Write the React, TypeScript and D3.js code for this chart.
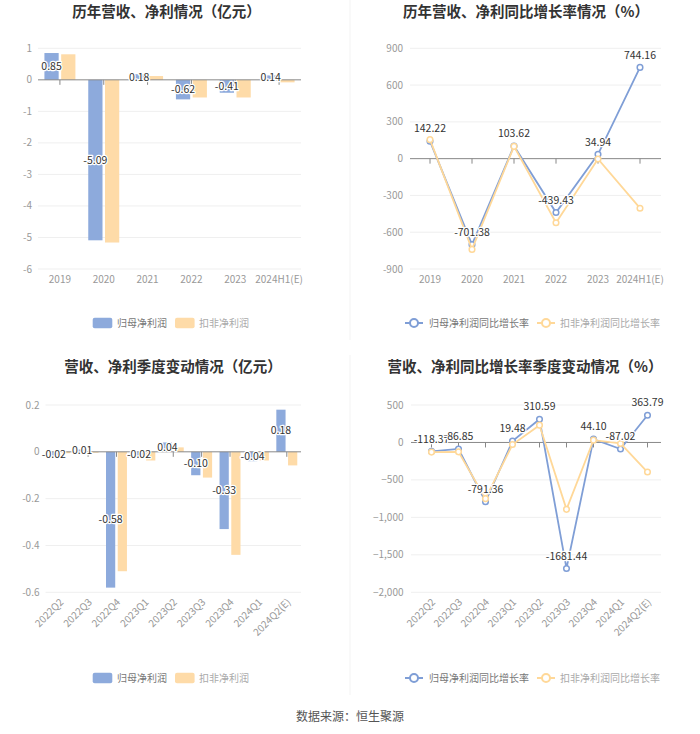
import React from 'react';
import * as d3 from 'd3';

const annualCats = ['2019', '2020', '2021', '2022', '2023', '2024H1(E)'];
const annualNet = [0.85, -5.09, 0.18, -0.62, -0.41, 0.14];
const annualDeducted = [0.81, -5.16, 0.12, -0.56, -0.56, -0.08];
const annualTicks = [1, 0, -1, -2, -3, -4, -5, -6];

const annualNetGrowth = [142.22, -701.38, 103.62, -439.43, 34.94, 744.16];
const annualDeductedGrowth = [155, -740, 100, -523, -3, -404];
const annualGrowthTicks = [900, 600, 300, 0, -300, -600, -900];

const quarterCats = ['2022Q2', '2022Q3', '2022Q4', '2023Q1', '2023Q2', '2023Q3', '2023Q4', '2024Q1', '2024Q2(E)'];
const quarterNet = [-0.02, 0.01, -0.58, -0.02, 0.04, -0.1, -0.33, -0.04, 0.18];
const quarterDeducted = [-0.006, -0.004, -0.51, -0.037, 0.019, -0.11, -0.44, -0.037, -0.058];
const quarterTicks = [0.2, 0, -0.2, -0.4, -0.6];

const quarterNetGrowth = [-118.37, -86.85, -791.36, 19.48, 310.59, -1681.44, 44.1, -87.02, 363.79];
const quarterDeductedGrowth = [-129, -125, -750, -27, 231, -893, 31, -13, -395];
const quarterGrowthTicks = [500, 0, -500, -1000, -1500, -2000];

const FONT = '"Noto Sans CJK SC", "Noto Sans", sans-serif';
const BLUE_BAR = '#8DAADC';
const ORANGE_BAR = '#FEDBA8';
const BLUE_LINE = '#7F9ED6';
const ORANGE_LINE = '#FFD898';
const AXIS_TEXT = '#999';
const GRID = '#EFEFEF';
const ZERO = '#888';
const AXIS_FS = 10;
const LABEL_FS = 10.5;

type BarProps = {
  cats: string[]; a: number[]; b: number[]; ticks: number[];
  x0: number; x1: number; yTop: number; yBot: number; labelRight: number;
  rotate: boolean; fmtTick: (v: number) => string; fmtLabel: (v: number) => string;
};

function BarPanel(p: BarProps) {
  const x = d3.scaleBand<string>().domain(p.cats).range([p.x0, p.x1]);
  const ext = d3.extent(p.ticks) as [number, number];
  const y = d3.scaleLinear().domain([ext[0], ext[1]]).range([p.yBot, p.yTop]);
  const band = x.bandwidth();
  const bw = band * 0.325;
  const gap = 2.5;
  const y0 = y(0);
  return (
    <g fontFamily={FONT}>
      {p.ticks.map((t) => (
        <g key={t}>
          {t !== 0 && <line x1={p.x0} x2={p.x1} y1={y(t)} y2={y(t)} stroke={GRID} />}
          <text x={p.labelRight} y={y(t)} dy="0.35em" textAnchor="end" fontSize={AXIS_FS} fill={AXIS_TEXT}>{p.fmtTick(t)}</text>
        </g>
      ))}
      {p.cats.map((c, i) => {
        const cx = (x(c) as number) + band / 2;
        const va = p.a[i];
        const vb = p.b[i];
        return (
          <g key={c}>
            <rect x={cx - gap / 2 - bw} width={bw} y={Math.min(y(va), y0)} height={Math.abs(y(va) - y0)} fill={BLUE_BAR} />
            <rect x={cx + gap / 2} width={bw} y={Math.min(y(vb), y0)} height={Math.abs(y(vb) - y0)} fill={ORANGE_BAR} />
          </g>
        );
      })}
      <line x1={p.x0} x2={p.x1} y1={y0} y2={y0} stroke={ZERO} />
      {p.cats.map((c) => {
        const cx = (x(c) as number) + band / 2;
        return <line key={c} x1={cx} x2={cx} y1={y0} y2={y0 + 5} stroke={ZERO} />;
      })}
      {p.cats.map((c) => {
        const cx = (x(c) as number) + band / 2;
        const ly = p.rotate ? p.yBot + 8 : p.yBot + 10;
        return p.rotate ? (
          <text key={c} transform={`translate(${cx + 2},${ly}) rotate(-45)`} textAnchor="end" dy="0.35em" fontSize={AXIS_FS} fill={AXIS_TEXT}>{c}</text>
        ) : (
          <text key={c} x={cx} y={ly} dy="0.35em" textAnchor="middle" fontSize={AXIS_FS} fill={AXIS_TEXT}>{c}</text>
        );
      })}
      {p.cats.map((c, i) => {
        const cx = (x(c) as number) + band / 2 - gap / 2 - bw / 2;
        const va = p.a[i];
        const my = (y(va) + y0) / 2;
        return (
          <text key={c} x={cx} y={my} dy="0.35em" textAnchor="middle" fontSize={LABEL_FS} fill="#333"
            stroke="#fff" strokeWidth={2.5} paintOrder="stroke" strokeLinejoin="round">{p.fmtLabel(va)}</text>
        );
      })}
    </g>
  );
}

type LineProps = {
  cats: string[]; a: number[]; b: number[]; ticks: number[];
  x0: number; x1: number; gridX0: number; yTop: number; yBot: number; labelRight: number;
  rotate: boolean; fmtTick: (v: number) => string;
};

function LinePanel(p: LineProps) {
  const x = d3.scaleBand<string>().domain(p.cats).range([p.x0, p.x1]);
  const ext = d3.extent(p.ticks) as [number, number];
  const y = d3.scaleLinear().domain([ext[0], ext[1]]).range([p.yBot, p.yTop]);
  const band = x.bandwidth();
  const cx = (c: string) => (x(c) as number) + band / 2;
  const y0 = y(0);
  const line = d3.line<number>().x((_, i) => cx(p.cats[i])).y((v) => y(v));
  return (
    <g fontFamily={FONT}>
      {p.ticks.map((t) => (
        <g key={t}>
          {t !== 0 && <line x1={p.gridX0} x2={p.x1} y1={y(t)} y2={y(t)} stroke={GRID} />}
          <text x={p.labelRight} y={y(t)} dy="0.35em" textAnchor="end" fontSize={AXIS_FS} fill={AXIS_TEXT}>{p.fmtTick(t)}</text>
        </g>
      ))}
      <line x1={p.gridX0} x2={p.x1} y1={y0} y2={y0} stroke={ZERO} />
      {p.cats.map((c) => (
        <line key={c} x1={cx(c)} x2={cx(c)} y1={y0} y2={y0 + 5} stroke={ZERO} />
      ))}
      {p.cats.map((c) => {
        const ly = p.rotate ? p.yBot + 8 : p.yBot + 10;
        return p.rotate ? (
          <text key={c} transform={`translate(${cx(c) + 2},${ly}) rotate(-45)`} textAnchor="end" dy="0.35em" fontSize={AXIS_FS} fill={AXIS_TEXT}>{c}</text>
        ) : (
          <text key={c} x={cx(c)} y={ly} dy="0.35em" textAnchor="middle" fontSize={AXIS_FS} fill={AXIS_TEXT}>{c}</text>
        );
      })}
      <path d={line(p.a) as string} fill="none" stroke={BLUE_LINE} strokeWidth={1.8} />
      {p.a.map((v, i) => (
        <circle key={i} cx={cx(p.cats[i])} cy={y(v)} r={2.8} fill="#fff" stroke={BLUE_LINE} strokeWidth={1.5} />
      ))}
      <path d={line(p.b) as string} fill="none" stroke={ORANGE_LINE} strokeWidth={1.8} />
      {p.b.map((v, i) => (
        <circle key={i} cx={cx(p.cats[i])} cy={y(v)} r={2.8} fill="#fff" stroke={ORANGE_LINE} strokeWidth={1.5} />
      ))}
      {p.a.map((v, i) => (
        <text key={i} x={cx(p.cats[i])} y={y(v) - 12.5} dy="0.35em" textAnchor="middle" fontSize={LABEL_FS} fill="#333"
          stroke="#fff" strokeWidth={2.5} paintOrder="stroke" strokeLinejoin="round">{v.toFixed(2)}</text>
      ))}
    </g>
  );
}

function BarLegend({ y }: { y: number }) {
  return (
    <g fontFamily={FONT} fontSize={10}>
      <rect x={92.7} y={y - 5.3} width={19.6} height={10.6} rx={2} fill={BLUE_BAR} />
      <text x={117} y={y} dy="0.35em" fill="#777">归母净利润</text>
      <rect x={175} y={y - 5.3} width={19.6} height={10.6} rx={2} fill={ORANGE_BAR} />
      <text x={199} y={y} dy="0.35em" fill="#aaa">扣非净利润</text>
    </g>
  );
}

function LineLegend({ y }: { y: number }) {
  return (
    <g fontFamily={FONT} fontSize={10}>
      <line x1={405} x2={423} y1={y} y2={y} stroke={BLUE_LINE} strokeWidth={2} />
      <circle cx={414} cy={y} r={4} fill="#fff" stroke={BLUE_LINE} strokeWidth={2} />
      <text x={429} y={y} dy="0.35em" fill="#777">归母净利润同比增长率</text>
      <line x1={537} x2={555} y1={y} y2={y} stroke={ORANGE_LINE} strokeWidth={2} />
      <circle cx={546} cy={y} r={4} fill="#fff" stroke={ORANGE_LINE} strokeWidth={2} />
      <text x={560} y={y} dy="0.35em" fill="#aaa">扣非净利润同比增长率</text>
    </g>
  );
}

const fmtComma = d3.format(',');

export default function App() {
  return (
    <svg width={700} height={734} style={{ position: 'absolute', left: 0, top: 0, background: '#fff' }}>
      <rect width={700} height={734} fill="#fff" />
      <line x1={350} x2={350} y1={0} y2={340} stroke="#f3f3f3" />
      <line x1={350} x2={350} y1={355} y2={695} stroke="#f3f3f3" />
      <g fontFamily={FONT} fontWeight="bold" fontSize={14.5} fill="#333" textAnchor="middle">
        <text x={166.5} y={12} dy="0.35em">历年营收、净利情况（亿元）</text>
        <text x={526} y={12} dy="0.35em">历年营收、净利同比增长率情况（%）</text>
        <text x={173} y={367} dy="0.35em">营收、净利季度变动情况（亿元）</text>
        <text x={525} y={367} dy="0.35em">营收、净利同比增长率季度变动情况（%）</text>
      </g>
      <BarPanel cats={annualCats} a={annualNet} b={annualDeducted} ticks={annualTicks}
        x0={38} x1={301} yTop={48.3} yBot={269} labelRight={32} rotate={false}
        fmtTick={(v) => String(v)} fmtLabel={(v) => v.toFixed(2)} />
      <LinePanel cats={annualCats} a={annualNetGrowth} b={annualDeductedGrowth} ticks={annualGrowthTicks}
        x0={409} x1={661} gridX0={410} yTop={48.3} yBot={269} labelRight={403} rotate={false}
        fmtTick={(v) => String(v)} />
      <BarPanel cats={quarterCats} a={quarterNet} b={quarterDeducted} ticks={quarterTicks}
        x0={45.5} x1={301} yTop={405} yBot={592.3} labelRight={39.5} rotate={true}
        fmtTick={(v) => String(Math.round(v * 10) / 10)} fmtLabel={(v) => v.toFixed(2)} />
      <LinePanel cats={quarterCats} a={quarterNetGrowth} b={quarterDeductedGrowth} ticks={quarterGrowthTicks}
        x0={418} x1={661} gridX0={411} yTop={405} yBot={592.3} labelRight={403.5} rotate={true}
        fmtTick={(v) => fmtComma(v)} />
      <BarLegend y={323} />
      <LineLegend y={323} />
      <BarLegend y={678} />
      <LineLegend y={678} />
      <text x={350} y={717} dy="0.35em" textAnchor="middle" fontFamily={FONT} fontSize={12} fill="#555">数据来源：恒生聚源</text>
    </svg>
  );
}
